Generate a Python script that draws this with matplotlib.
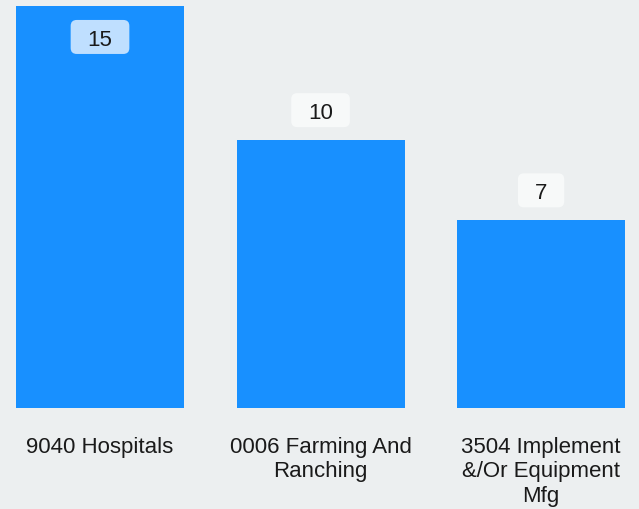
import matplotlib.pyplot as plt
from matplotlib.patches import FancyBboxPatch
from matplotlib.transforms import Affine2D

categories = ["9040 Hospitals", "0006 Farming And\nRanching", "3504 Implement\n&/Or Equipment\nMfg"]
counts = [15, 10, 7]

plt.rcParams['font.family'] = ['Liberation Sans', 'DejaVu Sans']

bg = '#ECEFF0'
bar_color = '#1890FF'

fig = plt.figure(figsize=(6.39, 5.1), dpi=100, facecolor=bg)
ax = fig.add_axes([0, 101.5 / 510, 1, 408 / 510])
ax.set_facecolor(bg)

x = list(range(len(counts)))
ax.bar(x, counts, width=0.762, color=bar_color)
ax.set_xlim(-0.4535, 2.444)
ax.set_ylim(0, 15.26)

ax.set_xticks(x)
ax.set_xticklabels(categories, fontsize=16, color='#1a1a1a', linespacing=1.22)
ax.tick_params(axis='x', length=0, pad=20.5)
ax.set_yticks([])
for s in ax.spines.values():
    s.set_visible(False)

# value labels in rounded boxes; the tallest bar gets its label inside
fig.canvas.draw()
top = max(counts)
for xi, v in zip(x, counts):
    px, py = ax.transData.transform((xi, v))
    if v == top:
        cy = py - 30.5
        face = '#BFDFFF'
    else:
        cy = py + 30
        face = '#F7F9F9'
    w = 0.556 * 22.2 * len(str(v)) + 34
    h = 34
    box = FancyBboxPatch((-w / 2, -h / 2), w, h,
                         boxstyle='round,pad=0,rounding_size=6',
                         facecolor=face, edgecolor='none',
                         transform=Affine2D().translate(px, cy))
    fig.patches.append(box)
    fig.text(px / fig.bbox.width, cy / fig.bbox.height, str(v),
             ha='center', va='center_baseline', fontsize=16, color='#1a1a1a')

fig.savefig('out.png', dpi=100, facecolor=bg)
